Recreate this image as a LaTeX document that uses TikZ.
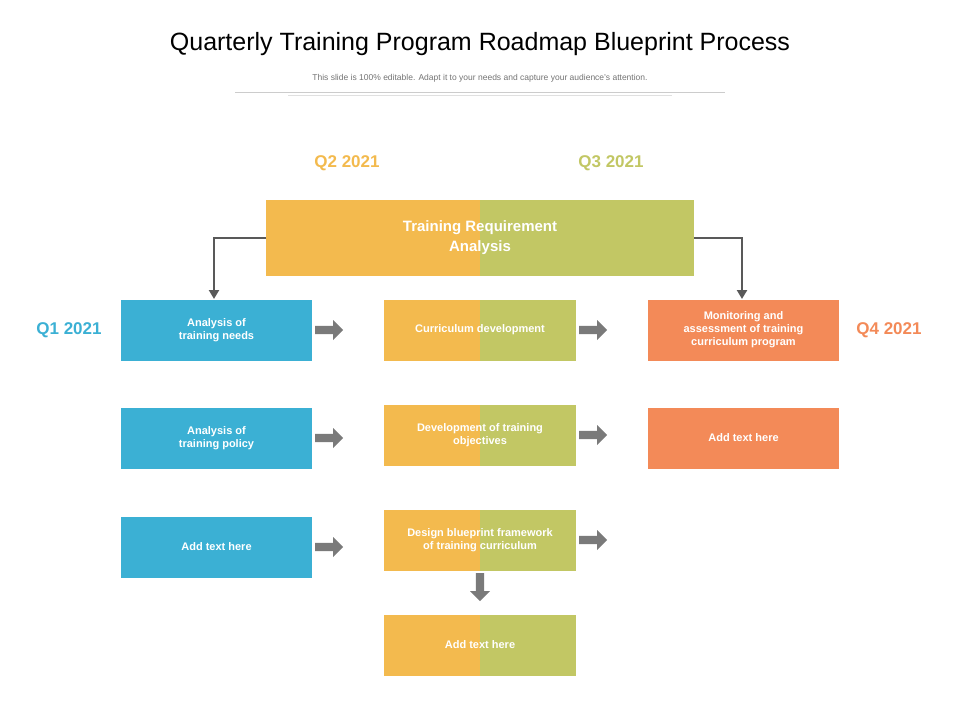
\documentclass[tikz,border=0pt]{standalone}
\usepackage{fontspec}
\setmainfont{Liberation Sans}
\usetikzlibrary{shapes.arrows,arrows.meta}
\definecolor{qor}{HTML}{F3BA4E}
\definecolor{qgr}{HTML}{C2C764}
\definecolor{qbl}{HTML}{3BB0D4}
\definecolor{qrd}{HTML}{F38A58}
\definecolor{agr}{HTML}{7A7A7A}
\begin{document}
\begin{tikzpicture}[x=1pt,y=-1pt,
 txt/.style={text=white,font=\bfseries\fontsize{11}{13}\selectfont,align=center},
 barr/.style={single arrow,fill=agr,minimum height=28pt,minimum width=20pt,single arrow head extend=3pt,inner sep=2pt},
 conn/.style={draw=black!65,line width=2.5pt,-{Triangle[length=9pt,width=10pt]}}]
\path[use as bounding box] (0,0) rectangle (960,720);
\node (title) at (480,44) {\fontsize{25}{30}\selectfont Quarterly Training Program Roadmap Blueprint Process};
\node[text=black!55] (sub) at (480,78) {\fontsize{8.5}{10}\selectfont This slide is 100\% editable. Adapt it to your needs and capture your audience's attention.};
\draw[black!20] (235,92) -- (725,92);
\draw[black!12] (288,95) -- (672,95);
\node[text=qor,font=\bfseries\fontsize{17}{20}\selectfont] (q2) at (347,163) {Q2 2021};
\node[text=qgr,font=\bfseries\fontsize{17}{20}\selectfont] (q3) at (611,163) {Q3 2021};
\node[text=qbl,font=\bfseries\fontsize{17}{20}\selectfont] (q1) at (69,330) {Q1 2021};
\node[text=qrd,font=\bfseries\fontsize{17}{20}\selectfont] (q4) at (889,330) {Q4 2021};
% top box
\fill[qor] (266,200) rectangle (480,276);
\fill[qgr] (480,200) rectangle (694,276);
\node[txt,font=\bfseries\fontsize{15}{20}\selectfont] (top) at (480,238) {Training Requirement\\Analysis};
\coordinate (tl) at (266,238); \coordinate (tr) at (694,238);
\coordinate (l1) at (214,238); \coordinate (r1) at (742,238);
% left boxes
\foreach \n/\y/\t in {b1/300/{Analysis of\\training needs},b2/408/{Analysis of\\training policy},b3/517/{Add text here}}{
 \fill[qbl] (121,\y) rectangle (312,\y+61);
 \node[txt] (\n) at (216.5,\y+30) {\t};
 \node[barr] (\n a) at (327,\y+30) {};
}
% middle boxes
\foreach \n/\y/\t in {m1/300/{Curriculum development},m2/405/{Development of training\\objectives},m3/510/{Design blueprint framework\\of training curriculum},m4/615/{Add text here}}{
 \fill[qor] (384,\y) rectangle (480,\y+61);
 \fill[qgr] (480,\y) rectangle (576,\y+61);
 \node[txt] (\n) at (480,\y+30) {\t};
}
\foreach \n/\y in {m1/300,m2/405,m3/510}{\node[barr] (\n a) at (591,\y+30) {};}
\node[barr,rotate=-90] (m3d) at (480,585) {};
% right boxes
\foreach \n/\y/\t in {r1b/300/{Monitoring and\\assessment of training\\curriculum program},r2b/408/{Add text here}}{
 \fill[qrd] (648,\y) rectangle (839,\y+61);
 \node[txt] (\n) at (743.5,\y+30) {\t};
}
\coordinate (b1t) at (214,299); \coordinate (r1t) at (742,299);
\draw[conn] (tl) -- (l1) -- (b1t);
\draw[conn] (tr) -- (r1) -- (r1t);
\end{tikzpicture}
\end{document}
